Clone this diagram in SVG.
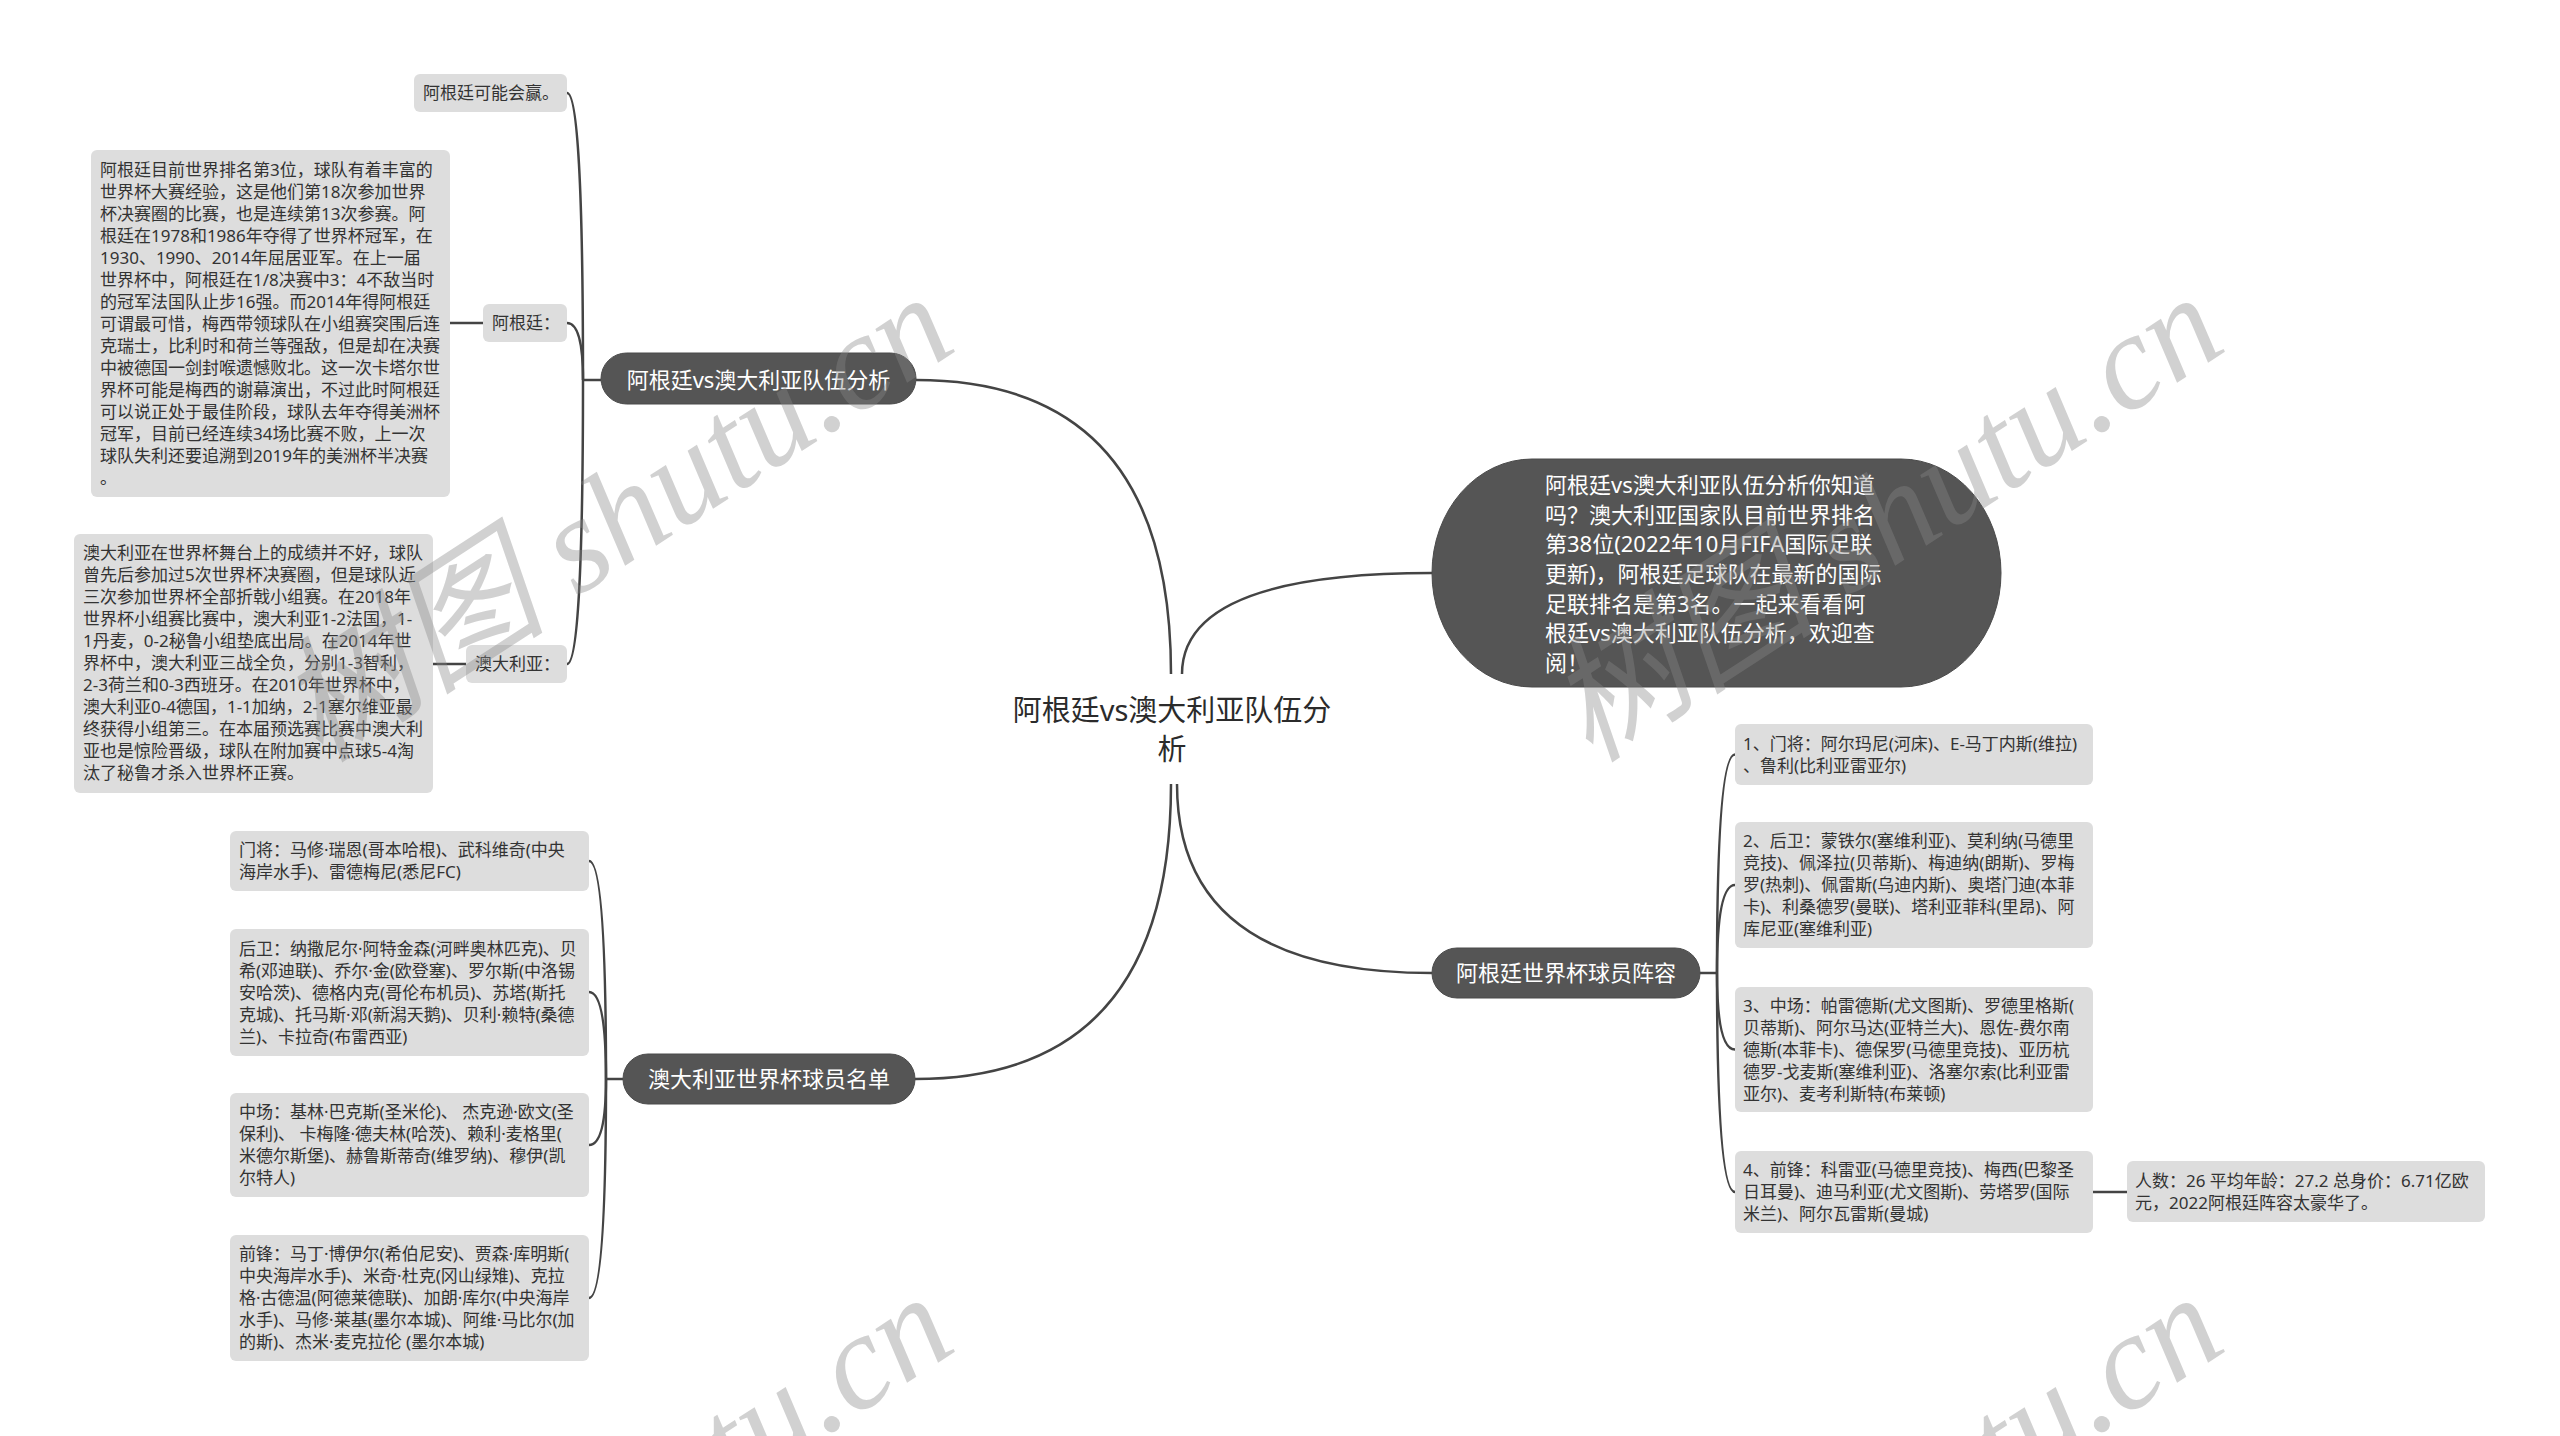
<svg xmlns="http://www.w3.org/2000/svg" width="2560" height="1436" viewBox="0 0 2560 1436">
<style>
.box{fill:#dddddd}
.dark{fill:#555555;stroke:#4a4a4a;stroke-width:1}
.t{font-family:"Noto Sans","Noto Sans CJK SC","Microsoft YaHei",sans-serif;font-size:17px;fill:#333333}
.tw{font-family:"Noto Sans","Noto Sans CJK SC","Microsoft YaHei",sans-serif;font-size:22px;fill:#ffffff}
.tc{font-family:"Noto Sans","Noto Sans CJK SC","Microsoft YaHei",sans-serif;font-size:29px;fill:#2b2b2b}
.link{fill:none;stroke:#444444;stroke-width:2.5}
.wm{font-family:"Liberation Serif","Noto Sans CJK SC",serif;font-style:italic;font-size:136px;fill:#888888;opacity:0.38}
</style>
<rect x="0" y="0" width="2560" height="1436" fill="#ffffff"/>
<g id="connectors">
<path class="link" d="M 1171 674 Q 1171 380 916 380"/>
<path class="link" d="M 1182 674 Q 1182 573 1432 573"/>
<path class="link" d="M 1171 784 Q 1171 1079 915 1079"/>
<path class="link" d="M 1177 784 Q 1177 973 1432 973"/>
<path class="link" d="M 601 380 L 583 380"/>
<path class="link" d="M 583 380 Q 583 93 567 93"/>
<path class="link" d="M 583 380 Q 583 323 567 323"/>
<path class="link" d="M 583 380 Q 583 664 567 664"/>
<path class="link" d="M 450 323 L 483 323"/>
<path class="link" d="M 433 664 L 466 664"/>
<path class="link" d="M 623 1079 L 606 1079"/>
<path class="link" d="M 606 1079 Q 606 861 589 861"/>
<path class="link" d="M 606 1079 Q 606 992 589 992"/>
<path class="link" d="M 606 1079 Q 606 1145 589 1145"/>
<path class="link" d="M 606 1079 Q 606 1298 589 1298"/>
<path class="link" d="M 1700 973 L 1717 973"/>
<path class="link" d="M 1717 973 Q 1717 754.5 1735 754.5"/>
<path class="link" d="M 1717 973 Q 1717 885 1735 885"/>
<path class="link" d="M 1717 973 Q 1717 1049.5 1735 1049.5"/>
<path class="link" d="M 1717 973 Q 1717 1192 1735 1192"/>
<path class="link" d="M 2093 1192 L 2127 1192"/>
</g>
<g id="root">
<text class="tc" x="1172" y="721" text-anchor="middle">阿根廷vs澳大利亚队伍分</text>
<text class="tc" x="1172" y="760" text-anchor="middle">析</text>
</g>
<g id="n-analysis">
<rect class="dark" x="601" y="353" width="315" height="51" rx="25.5"/>
<text class="tw" x="758.5" y="388" text-anchor="middle">阿根廷vs澳大利亚队伍分析</text>
</g>
<g id="n-win">
<rect class="box" x="414" y="74" width="153" height="38" rx="6"/>
<text class="t" x="423" y="99">阿根廷可能会赢。</text>
</g>
<g id="n-arg">
<rect class="box" x="483" y="304" width="84" height="38" rx="6"/>
<text class="t" x="492" y="329">阿根廷：</text>
</g>
<g id="n-arg-detail">
<rect class="box" x="91" y="150" width="359" height="347" rx="6"/>
<text class="t" x="100" y="176">阿根廷目前世界排名第3位，球队有着丰富的</text>
<text class="t" x="100" y="198">世界杯大赛经验，这是他们第18次参加世界</text>
<text class="t" x="100" y="220">杯决赛圈的比赛，也是连续第13次参赛。阿</text>
<text class="t" x="100" y="242">根廷在1978和1986年夺得了世界杯冠军，在</text>
<text class="t" x="100" y="264">1930、1990、2014年屈居亚军。在上一届</text>
<text class="t" x="100" y="286">世界杯中，阿根廷在1/8决赛中3：4不敌当时</text>
<text class="t" x="100" y="308">的冠军法国队止步16强。而2014年得阿根廷</text>
<text class="t" x="100" y="330">可谓最可惜，梅西带领球队在小组赛突围后连</text>
<text class="t" x="100" y="352">克瑞士，比利时和荷兰等强敌，但是却在决赛</text>
<text class="t" x="100" y="374">中被德国一剑封喉遗憾败北。这一次卡塔尔世</text>
<text class="t" x="100" y="396">界杯可能是梅西的谢幕演出，不过此时阿根廷</text>
<text class="t" x="100" y="418">可以说正处于最佳阶段，球队去年夺得美洲杯</text>
<text class="t" x="100" y="440">冠军，目前已经连续34场比赛不败，上一次</text>
<text class="t" x="100" y="462">球队失利还要追溯到2019年的美洲杯半决赛</text>
<text class="t" x="100" y="484">。</text>
</g>
<g id="n-aus">
<rect class="box" x="466" y="645" width="101" height="38" rx="6"/>
<text class="t" x="475" y="670">澳大利亚：</text>
</g>
<g id="n-aus-detail">
<rect class="box" x="74" y="534" width="359" height="259" rx="6"/>
<text class="t" x="83" y="559">澳大利亚在世界杯舞台上的成绩并不好，球队</text>
<text class="t" x="83" y="581">曾先后参加过5次世界杯决赛圈，但是球队近</text>
<text class="t" x="83" y="603">三次参加世界杯全部折戟小组赛。在2018年</text>
<text class="t" x="83" y="625">世界杯小组赛比赛中，澳大利亚1-2法国，1-</text>
<text class="t" x="83" y="647">1丹麦，0-2秘鲁小组垫底出局。在2014年世</text>
<text class="t" x="83" y="669">界杯中，澳大利亚三战全负，分别1-3智利，</text>
<text class="t" x="83" y="691">2-3荷兰和0-3西班牙。在2010年世界杯中，</text>
<text class="t" x="83" y="713">澳大利亚0-4德国，1-1加纳，2-1塞尔维亚最</text>
<text class="t" x="83" y="735">终获得小组第三。在本届预选赛比赛中澳大利</text>
<text class="t" x="83" y="757">亚也是惊险晋级，球队在附加赛中点球5-4淘</text>
<text class="t" x="83" y="779">汰了秘鲁才杀入世界杯正赛。</text>
</g>
<g id="n-aus-list">
<rect class="dark" x="623" y="1054" width="292" height="50" rx="25"/>
<text class="tw" x="769" y="1087" text-anchor="middle">澳大利亚世界杯球员名单</text>
</g>
<g id="n-aus-gk">
<rect class="box" x="230" y="831" width="359" height="60" rx="6"/>
<text class="t" x="239" y="856">门将：马修·瑞恩(哥本哈根)、武科维奇(中央</text>
<text class="t" x="239" y="878">海岸水手)、雷德梅尼(悉尼FC)</text>
</g>
<g id="n-aus-df">
<rect class="box" x="230" y="929" width="359" height="127" rx="6"/>
<text class="t" x="239" y="955">后卫：纳撒尼尔·阿特金森(河畔奥林匹克)、贝</text>
<text class="t" x="239" y="977">希(邓迪联)、乔尔·金(欧登塞)、罗尔斯(中洛锡</text>
<text class="t" x="239" y="999">安哈茨)、德格内克(哥伦布机员)、苏塔(斯托</text>
<text class="t" x="239" y="1021">克城)、托马斯·邓(新潟天鹅)、贝利·赖特(桑德</text>
<text class="t" x="239" y="1043">兰)、卡拉奇(布雷西亚)</text>
</g>
<g id="n-aus-mf">
<rect class="box" x="230" y="1093" width="359" height="104" rx="6"/>
<text class="t" x="239" y="1118">中场：基林·巴克斯(圣米伦)、 杰克逊·欧文(圣</text>
<text class="t" x="239" y="1140">保利)、 卡梅隆·德夫林(哈茨)、赖利·麦格里(</text>
<text class="t" x="239" y="1162">米德尔斯堡)、赫鲁斯蒂奇(维罗纳)、穆伊(凯</text>
<text class="t" x="239" y="1184">尔特人)</text>
</g>
<g id="n-aus-fw">
<rect class="box" x="230" y="1235" width="359" height="126" rx="6"/>
<text class="t" x="239" y="1260">前锋：马丁·博伊尔(希伯尼安)、贾森·库明斯(</text>
<text class="t" x="239" y="1282">中央海岸水手)、米奇·杜克(冈山绿雉)、克拉</text>
<text class="t" x="239" y="1304">格·古德温(阿德莱德联)、加朗·库尔(中央海岸</text>
<text class="t" x="239" y="1326">水手)、马修·莱基(墨尔本城)、阿维·马比尔(加</text>
<text class="t" x="239" y="1348">的斯)、杰米·麦克拉伦 (墨尔本城)</text>
</g>
<g id="n-intro">
<rect class="dark" x="1432" y="459" width="569" height="228" rx="100" ry="114"/>
<text class="tw" x="1545" y="493">阿根廷vs澳大利亚队伍分析你知道</text>
<text class="tw" x="1545" y="523">吗？澳大利亚国家队目前世界排名</text>
<text class="tw" x="1545" y="552">第38位(2022年10月FIFA国际足联</text>
<text class="tw" x="1545" y="582">更新)，阿根廷足球队在最新的国际</text>
<text class="tw" x="1545" y="612">足联排名是第3名。一起来看看阿</text>
<text class="tw" x="1545" y="641">根廷vs澳大利亚队伍分析，欢迎查</text>
<text class="tw" x="1545" y="671">阅！</text>
</g>
<g id="n-arg-squad">
<rect class="dark" x="1432" y="948" width="268" height="50" rx="25"/>
<text class="tw" x="1566" y="981" text-anchor="middle">阿根廷世界杯球员阵容</text>
</g>
<g id="n-arg-gk">
<rect class="box" x="1735" y="724" width="358" height="61" rx="6"/>
<text class="t" x="1743" y="750">1、门将：阿尔玛尼(河床)、E-马丁内斯(维拉)</text>
<text class="t" x="1743" y="772">、鲁利(比利亚雷亚尔)</text>
</g>
<g id="n-arg-df">
<rect class="box" x="1735" y="822" width="358" height="126" rx="6"/>
<text class="t" x="1743" y="847">2、后卫：蒙铁尔(塞维利亚)、莫利纳(马德里</text>
<text class="t" x="1743" y="869">竞技)、佩泽拉(贝蒂斯)、梅迪纳(朗斯)、罗梅</text>
<text class="t" x="1743" y="891">罗(热刺)、佩雷斯(乌迪内斯)、奥塔门迪(本菲</text>
<text class="t" x="1743" y="913">卡)、利桑德罗(曼联)、塔利亚菲科(里昂)、阿</text>
<text class="t" x="1743" y="935">库尼亚(塞维利亚)</text>
</g>
<g id="n-arg-mf">
<rect class="box" x="1735" y="987" width="358" height="125" rx="6"/>
<text class="t" x="1743" y="1012">3、中场：帕雷德斯(尤文图斯)、罗德里格斯(</text>
<text class="t" x="1743" y="1034">贝蒂斯)、阿尔马达(亚特兰大)、恩佐-费尔南</text>
<text class="t" x="1743" y="1056">德斯(本菲卡)、德保罗(马德里竞技)、亚历杭</text>
<text class="t" x="1743" y="1078">德罗-戈麦斯(塞维利亚)、洛塞尔索(比利亚雷</text>
<text class="t" x="1743" y="1100">亚尔)、麦考利斯特(布莱顿)</text>
</g>
<g id="n-arg-fw">
<rect class="box" x="1735" y="1151" width="358" height="82" rx="6"/>
<text class="t" x="1743" y="1176">4、前锋：科雷亚(马德里竞技)、梅西(巴黎圣</text>
<text class="t" x="1743" y="1198">日耳曼)、迪马利亚(尤文图斯)、劳塔罗(国际</text>
<text class="t" x="1743" y="1220">米兰)、阿尔瓦雷斯(曼城)</text>
</g>
<g id="n-arg-summary">
<rect class="box" x="2127" y="1161" width="358" height="61" rx="6"/>
<text class="t" x="2135" y="1187">人数：26 平均年龄：27.2 总身价：6.71亿欧</text>
<text class="t" x="2135" y="1209">元，2022阿根廷阵容太豪华了。</text>
</g>
<g id="watermarks">
<text class="wm" transform="translate(320,764) rotate(-33)">树图 shutu.cn</text>
<text class="wm" transform="translate(1590,764) rotate(-33)">树图 shutu.cn</text>
<text class="wm" transform="translate(320,1764) rotate(-33)">树图 shutu.cn</text>
<text class="wm" transform="translate(1590,1764) rotate(-33)">树图 shutu.cn</text>
</g>
</svg>
